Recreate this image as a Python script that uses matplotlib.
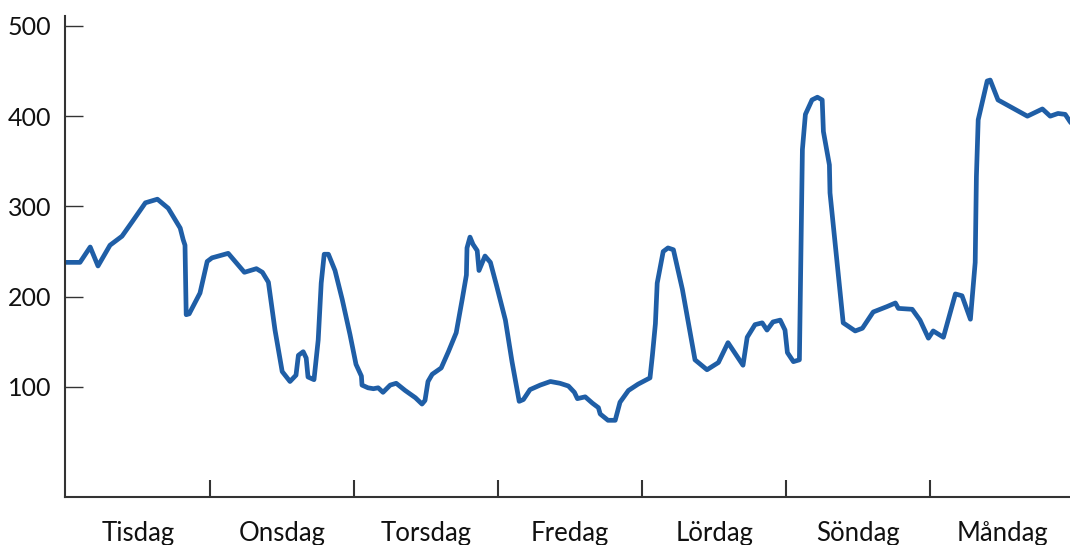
import matplotlib
matplotlib.use('Agg')
import matplotlib.pyplot as plt

# hours since Tuesday 00:00, and value
hours = [0.0, 2.3, 4.0, 5.3, 7.3, 9.3, 11.0, 13.2, 15.2, 17.0, 19.0, 19.5, 19.8, 20.0, 20.5,
         22.3, 23.5, 24.3, 27.0, 29.7, 31.7, 32.7, 33.7, 34.8, 36.0, 37.3, 38.3, 38.7, 39.5,
         40.0, 40.3, 41.3, 42.0, 42.5, 43.0, 43.7, 44.8, 46.0, 47.3, 48.3, 49.2, 49.3, 50.3,
         51.2, 52.0, 52.8, 54.0, 55.0, 56.5, 58.2, 59.3, 59.8, 60.3, 61.0, 62.5, 63.7, 65.0,
         66.0, 66.7, 66.8, 67.3, 67.8, 68.5, 68.8, 69.8, 70.7, 71.7, 73.2, 74.3, 75.5, 76.2,
         77.3, 79.0, 80.7, 82.3, 83.7, 84.7, 85.2, 86.5, 87.7, 88.7, 89.0, 90.3, 91.5, 92.3,
         93.7, 95.3, 97.3, 97.7, 98.2, 98.5, 99.5, 100.3, 101.2, 102.7, 104.8, 106.8, 108.7,
         110.3, 112.8, 113.5, 114.8, 116.0, 116.8, 117.8, 119.0, 119.8, 120.2, 121.2, 122.2,
         122.7, 123.2, 124.3, 125.2, 126.0, 126.2, 127.2, 127.3, 129.5, 131.5, 132.7, 134.5,
         136.8, 138.2, 138.7, 141.0, 142.3, 143.7, 144.5, 146.2, 148.2, 149.3, 150.7, 151.5,
         151.7, 152.0, 153.5, 154.0, 155.3, 160.2, 162.7, 164.0, 165.3, 166.5, 167.3, 168.0]
values = [238, 238, 255, 234, 257, 267, 283, 304, 308, 298, 276, 263, 257, 180, 181,
          204, 239, 243, 248, 227, 231, 227, 216, 163, 117, 106, 113, 135, 139,
          132, 111, 108, 152, 215, 247, 247, 229, 197, 158, 125, 112, 102, 99,
          98, 99, 94, 102, 104, 96, 88, 81, 85, 106, 114, 121, 139, 160,
          197, 224, 254, 266, 258, 251, 229, 245, 238, 213, 174, 128, 84, 86,
          97, 102, 106, 104, 101, 94, 87, 89, 82, 77, 70, 63, 63, 83,
          96, 103, 110, 135, 170, 215, 250, 254, 252, 208, 130, 119, 127,
          149, 124, 155, 169, 171, 163, 172, 174, 163, 138, 128, 130,
          363, 402, 418, 421, 418, 383, 346, 315, 171, 162, 165, 183,
          189, 193, 187, 186, 174, 154, 162, 155, 203, 201, 175, 238,
          333, 396, 439, 440, 418, 400, 408, 400, 403, 402, 394, 388]

days = ['Tisdag', 'Onsdag', 'Torsdag', 'Fredag', 'Lördag', 'Söndag', 'Måndag']
y_ticks = [100, 200, 300, 400, 500]

plt.rcParams['font.family'] = ['Lato', 'DejaVu Sans']

fig = plt.figure(figsize=(10.7, 5.45), dpi=100)
ax = fig.add_axes([65 / 1070, 48 / 545, 1 - 65 / 1070, (497 - 16) / 545])

ax.plot(hours, values, color='#1f5ea6', linewidth=3.4, solid_joinstyle='round',
        solid_capstyle='round')

ax.set_xlim(-0.2, 167.3)
ax.set_ylim(-22, 511)

for side in ['top', 'right']:
    ax.spines[side].set_visible(False)
for side in ['left', 'bottom']:
    ax.spines[side].set_color('#333333')
    ax.spines[side].set_linewidth(1.5)

ax.set_yticks(y_ticks)
ax.set_yticklabels([str(v) for v in y_ticks])
ax.tick_params(axis='y', direction='in', length=13, width=1.0, color='#333333',
               labelsize=18, pad=10, labelcolor='#111111')

ax.set_xticks([24 * i for i in range(1, 7)])
ax.set_xticklabels([])
ax.set_xticks([24 * i + 12 for i in range(7)], minor=True)
ax.set_xticklabels(days, minor=True)
ax.tick_params(axis='x', which='major', direction='in', length=12, width=1.5, color='#333333')
ax.tick_params(axis='x', which='minor', length=0, labelsize=18.5, pad=17, labelcolor='#111111')

fig.savefig('out.png', dpi=100)
